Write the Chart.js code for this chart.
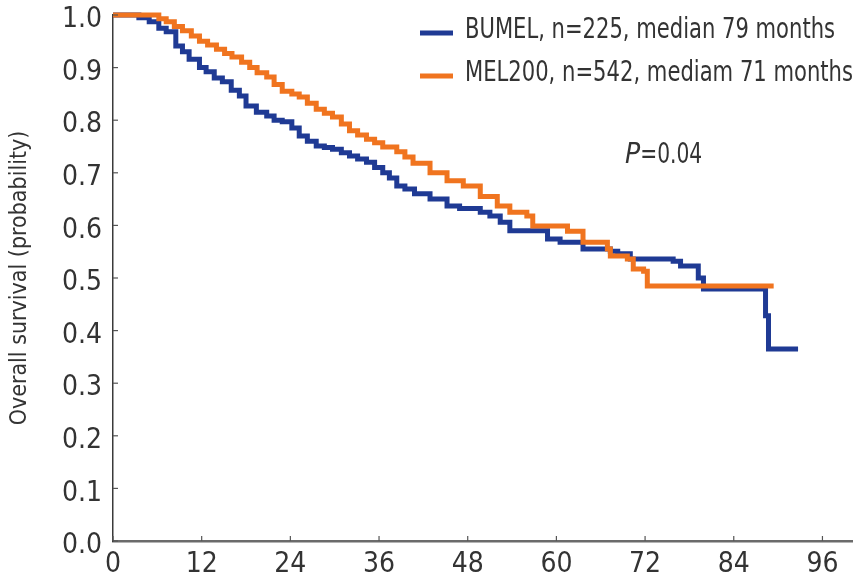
<!DOCTYPE html>
<html>
<head>
<meta charset="utf-8">
<script src="https://cdn.jsdelivr.net/npm/chart.js@4.4.1/dist/chart.umd.min.js"></script>
<style>
  html, body { margin: 0; padding: 0; background: #fff; }
  #wrap { width: 866px; height: 576px; }
</style>
</head>
<body>
<div id="wrap"><canvas id="km"></canvas></div>
<script>
// Kaplan-Meier steps (months, survival probability)
const bumelMonths = [0, 3.5, 4.9, 6.2, 7.2, 8.5, 9.4, 10.3, 11.7, 12.6, 13.7, 14.8, 16, 17.1, 18, 19.4, 20.8, 21.8, 22.9, 24.2, 25.2, 26.3, 27.5, 28.6, 29.7, 30.9, 32, 33.1, 34.3, 35.4, 36.5, 37.4, 38.4, 39.5, 40.8, 42.9, 45.2, 46.9, 49.7, 51, 52.4, 53.7, 58.8, 60.5, 63.6, 67.3, 68.3, 70, 75.8, 76.8, 79.2, 79.9, 88.3, 88.7, 92.7];
const bumelSurv = [1.0, 0.995, 0.987, 0.975, 0.968, 0.941, 0.93, 0.916, 0.90, 0.892, 0.88, 0.873, 0.857, 0.846, 0.827, 0.815, 0.808, 0.80, 0.797, 0.785, 0.77, 0.76, 0.751, 0.748, 0.745, 0.738, 0.732, 0.726, 0.72, 0.71, 0.70, 0.69, 0.675, 0.669, 0.66, 0.65, 0.637, 0.632, 0.625, 0.618, 0.606, 0.59, 0.574, 0.568, 0.555, 0.551, 0.546, 0.536, 0.532, 0.523, 0.50, 0.479, 0.428, 0.365, 0.365];

const melMonths = [0, 4.9, 6.2, 7.2, 8.3, 9.4, 10.6, 11.7, 12.8, 14, 15.1, 16.1, 17.4, 18.5, 19.5, 20.8, 21.8, 22.9, 24.2, 25.2, 26.3, 27.5, 28.6, 29.7, 30.9, 32, 33.1, 34.3, 35.4, 36.5, 38.4, 39.5, 40.6, 42.9, 45.2, 47.4, 49.7, 52, 53.7, 56, 56.8, 61.5, 63.6, 66.9, 67.3, 69.6, 70.4, 71.8, 72.3, 89.4];
const melSurv = [1.0, 1.0, 0.993, 0.987, 0.978, 0.97, 0.96, 0.95, 0.943, 0.935, 0.927, 0.92, 0.91, 0.90, 0.89, 0.882, 0.868, 0.855, 0.85, 0.844, 0.832, 0.821, 0.813, 0.806, 0.793, 0.78, 0.772, 0.764, 0.757, 0.749, 0.74, 0.73, 0.718, 0.70, 0.685, 0.675, 0.655, 0.637, 0.625, 0.618, 0.599, 0.589, 0.568, 0.555, 0.542, 0.536, 0.517, 0.513, 0.485, 0.485];

const xTicks = [0, 12, 24, 36, 48, 60, 72, 84, 96];
const legendLabels = ["BUMEL, n=225, median 79 months", "MEL200, n=542, mediam 71 months"];
const seriesColors = ["#1f3a94", "#f0741f"];

const FONT = "'Liberation Sans Narrow', 'DejaVu Sans Condensed', 'Liberation Sans', sans-serif";
const TXT = "#333333";

const toPoints = (xs, ys) => xs.map((x, i) => ({ x: x, y: ys[i] }));

// text squeezed horizontally to a given width (the original uses a narrow face)
const narrowText = (ctx, txt, x, y, width) => {
  const w = ctx.measureText(txt).width;
  const k = Math.min(1, width / w);
  ctx.save();
  ctx.translate(x, y);
  ctx.scale(k, 1);
  ctx.fillText(txt, 0, 0);
  ctx.restore();
  return w * k;
};

// short inward tick marks, legend and p-value
const extras = {
  id: "extras",
  afterDraw(chart) {
    const { ctx, chartArea } = chart;
    const xs = chart.scales.x, ys = chart.scales.y;
    ctx.save();
    ctx.strokeStyle = "#555";
    ctx.lineWidth = 1.2;
    xs.ticks.forEach((t) => {
      const px = xs.getPixelForValue(t.value);
      ctx.beginPath();
      ctx.moveTo(px, chartArea.bottom);
      ctx.lineTo(px, chartArea.bottom - 5);
      ctx.stroke();
    });
    ys.ticks.forEach((t) => {
      const py = ys.getPixelForValue(t.value);
      ctx.beginPath();
      ctx.moveTo(chartArea.left, py);
      ctx.lineTo(chartArea.left + 5, py);
      ctx.stroke();
    });

    // legend
    ctx.font = "28px " + FONT;
    ctx.textBaseline = "middle";
    ctx.textAlign = "left";
    const rows = [31, 74];
    const widths = [370, 388];
    legendLabels.forEach((lab, i) => {
      ctx.strokeStyle = seriesColors[i];
      ctx.lineWidth = 5;
      ctx.beginPath();
      ctx.moveTo(420, rows[i] + 2);
      ctx.lineTo(453, rows[i] + 2);
      ctx.stroke();
      ctx.fillStyle = TXT;
      narrowText(ctx, lab, 465, rows[i], widths[i]);
    });

    // P value
    ctx.font = "italic 28px " + FONT;
    const pw = narrowText(ctx, "P", 625, 156, 16);
    ctx.font = "28px " + FONT;
    narrowText(ctx, "=0.04", 625 + pw, 156, 62);
    ctx.restore();
  },
};

new Chart(document.getElementById("km"), {
  type: "line",
  data: {
    datasets: [
      {
        label: legendLabels[1],
        data: toPoints(melMonths, melSurv),
        borderColor: seriesColors[1],
        borderWidth: 5,
        stepped: true,
        pointRadius: 0,
        fill: false,
        clip: false,
      },
      {
        label: legendLabels[0],
        data: toPoints(bumelMonths, bumelSurv),
        borderColor: seriesColors[0],
        borderWidth: 5,
        stepped: true,
        pointRadius: 0,
        fill: false,
        clip: false,
      },
    ],
  },
  options: {
    responsive: true,
    maintainAspectRatio: false,
    animation: false,
    layout: { padding: { top: 15, right: 14, left: 0, bottom: 0 } },
    plugins: {
      legend: { display: false },
      tooltip: { enabled: false },
    },
    scales: {
      x: {
        type: "linear",
        min: 0,
        max: 100,
        afterBuildTicks: (scale) => {
          scale.ticks = xTicks.map((v) => ({ value: v }));
        },
        afterFit: (scale) => {
          scale.height = 35;
          scale.paddingLeft = 0;
          scale.paddingRight = 0;
        },
        grid: { display: false, drawTicks: false },
        border: { display: true, color: "#6b6b6b", width: 2.5 },
        ticks: {
          color: TXT,
          font: { family: FONT, size: 28 },
          padding: 7,
          maxRotation: 0,
          callback: (v) => String(v),
        },
      },
      y: {
        min: 0,
        max: 1,
        afterFit: (scale) => {
          scale.width = 113;
          scale.paddingTop = 0;
          scale.paddingBottom = 0;
        },
        grid: { display: false, drawTicks: false },
        border: { display: true, color: "#3a3a3a", width: 1.5 },
        ticks: {
          stepSize: 0.1,
          color: TXT,
          font: { family: FONT, size: 28 },
          padding: 11,
          labelOffset: 5,
          callback: (v) => Number(v).toFixed(1),
        },
        title: {
          display: true,
          text: "Overall survival (probability)",
          color: TXT,
          font: { family: FONT, size: 23 },
          padding: { top: 6, bottom: 0 },
        },
      },
    },
  },
  plugins: [extras],
});
</script>
</body>
</html>
